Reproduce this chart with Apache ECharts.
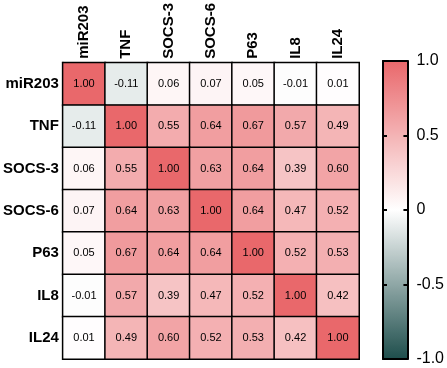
<!DOCTYPE html>
<html>
<head>
<meta charset="utf-8">
<script src="https://cdn.jsdelivr.net/npm/echarts@6/dist/echarts.min.js"></script>
<style>html,body{margin:0;padding:0;background:#fff}#c{width:447px;height:368px}</style>
</head>
<body>
<div id="c"></div>
<script>
var genes = ['miR203', 'TNF', 'SOCS-3', 'SOCS-6', 'P63', 'IL8', 'IL24'];
var row_miR203 = [1.00, -0.11, 0.06, 0.07, 0.05, -0.01, 0.01];
var row_TNF    = [-0.11, 1.00, 0.55, 0.64, 0.67, 0.57, 0.49];
var row_SOCS3  = [0.06, 0.55, 1.00, 0.63, 0.64, 0.39, 0.60];
var row_SOCS6  = [0.07, 0.64, 0.63, 1.00, 0.64, 0.47, 0.52];
var row_P63    = [0.05, 0.67, 0.64, 0.64, 1.00, 0.52, 0.53];
var row_IL8    = [-0.01, 0.57, 0.39, 0.47, 0.52, 1.00, 0.42];
var row_IL24   = [0.01, 0.49, 0.60, 0.52, 0.53, 0.42, 1.00];
var colorbarTicks = [-1.0, -0.5, 0, 0.5, 1.0];

var rows = [row_miR203, row_TNF, row_SOCS3, row_SOCS6, row_P63, row_IL8, row_IL24];
var data = [];
rows.forEach(function (r, i) { r.forEach(function (v, j) { data.push([j, i, v]); }); });

var FONT = '"Liberation Sans", Arial, sans-serif';
var chart = echarts.init(document.getElementById('c'), null, {renderer: 'canvas'});
chart.setOption({
  animation: false,
  backgroundColor: '#fff',
  grid: [
    {left: 60, top: 60, width: 299, height: 299},
    {left: 383, top: 61, width: 26, height: 298}
  ],
  xAxis: [
    {type: 'category', data: genes, position: 'top', gridIndex: 0,
     axisLine: {show: true, lineStyle: {color: '#000', width: 2}}, axisTick: {show: false},
     axisLabel: {rotate: -90, fontFamily: FONT, fontWeight: 'bold', fontSize: 15, color: '#000', margin: 4}},
    {type: 'value', gridIndex: 1, min: 0, max: 1, position: 'bottom', z: 10,
     axisLine: {show: true, onZero: false, lineStyle: {color: '#000', width: 2}}, axisTick: {show: false}, axisLabel: {show: false}, splitLine: {show: false}},
    {type: 'value', gridIndex: 1, min: 0, max: 1, position: 'top', z: 10,
     axisLine: {show: true, onZero: false, lineStyle: {color: '#000', width: 2}}, axisTick: {show: false}, axisLabel: {show: false}, splitLine: {show: false}}
  ],
  yAxis: [
    {type: 'category', data: genes, inverse: true, gridIndex: 0,
     axisLine: {show: true, lineStyle: {color: '#000', width: 2}}, axisTick: {show: false},
     axisLabel: {fontFamily: FONT, fontWeight: 'bold', fontSize: 15, color: '#000', margin: 4}},
    {type: 'value', gridIndex: 1, min: colorbarTicks[0], max: colorbarTicks[colorbarTicks.length - 1], interval: 0.5, position: 'left', z: 10,
     axisLine: {show: true, onZero: false, lineStyle: {color: '#000', width: 2}},
     axisTick: {show: true, inside: true, length: 4, lineStyle: {color: '#000', width: 2}},
     axisLabel: {show: false}, splitLine: {show: false}},
    {type: 'value', gridIndex: 1, min: colorbarTicks[0], max: colorbarTicks[colorbarTicks.length - 1], interval: 0.5, position: 'right', z: 10,
     axisLine: {show: true, onZero: false, lineStyle: {color: '#000', width: 2}},
     axisTick: {show: true, inside: true, length: 4, lineStyle: {color: '#000', width: 2}},
     axisLabel: {show: true, margin: 9, fontFamily: FONT, fontSize: 16, color: '#000',
       formatter: function (v) { return v === 0 ? '0' : v.toFixed(1); }},
     splitLine: {show: false}}
  ],
  visualMap: {
    type: 'continuous', min: -1, max: 1, calculable: false, show: true,
    seriesIndex: 0, orient: 'vertical', left: 383, top: 61, itemWidth: 26, itemHeight: 298,
    padding: 0, z: 2, hoverLink: false,
    inRange: {color: ['#1e4e4c', '#ffffff', '#e9686b']}
  },
  series: [{
    type: 'heatmap', xAxisIndex: 0, yAxisIndex: 0, data: data,
    itemStyle: {borderColor: '#000', borderWidth: 1.5},
    label: {show: true, fontFamily: FONT, fontSize: 11, color: '#000',
      formatter: function (p) { return p.value[2].toFixed(2); }},
    emphasis: {disabled: true}
  }]
});
</script>
</body>
</html>
